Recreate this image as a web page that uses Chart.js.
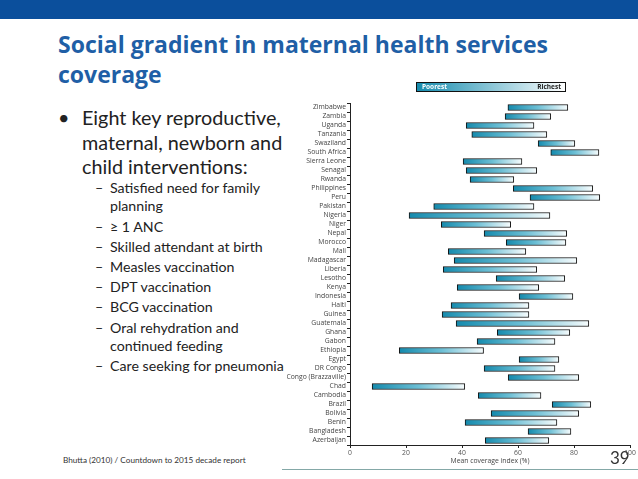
<!DOCTYPE html>
<html>
<head>
<meta charset="utf-8">
<script src="https://cdn.jsdelivr.net/npm/chart.js@4"></script>
<style>
  html, body { margin: 0; padding: 0; background: #fff; }
  #slide { position: relative; width: 638px; height: 479px; overflow: hidden; font-family: Lato, "Open Sans", sans-serif; color: #222; }
  #topbar { position: absolute; left: 0; top: 0; width: 638px; height: 19px; background: #0b4f9c; }
  .title { position: absolute; left: 58px; font-family: "Open Sans", sans-serif; font-weight: 700; font-size: 23px; color: #1f5fa6; line-height: 30px; white-space: nowrap; }
  .ln { position: absolute; white-space: nowrap; }
  .main { font-size: 19.8px; line-height: 24px; left: 82px; }
  .sub { font-size: 14.2px; line-height: 18px; left: 110px; }
  .mark { position: absolute; }
  #chartbox { position: absolute; left: 287px; top: 78px; width: 351px; height: 390px; background: #fff; }
  #key { position: absolute; left: 416px; top: 82px; width: 148px; height: 8px; border: 1px solid #111; background: linear-gradient(to right, #168cae, #ffffff); font-family: "Open Sans", sans-serif; font-size: 6.5px; font-weight: 700; line-height: 8px; }
  #key .p { position: absolute; left: 5px; top: 0; color: #fff; }
  #key .r { position: absolute; right: 4px; top: 0; color: #222; }
  #footer { position: absolute; left: 63px; top: 455px; font-size: 8.2px; color: #333; white-space: nowrap; }
  #pageno { position: absolute; left: 610px; top: 447px; font-size: 17px; color: #333; }
  #rule { position: absolute; left: 282px; top: 469px; width: 356px; height: 1px; background: #84a8a7; }
</style>
</head>
<body>
<div id="slide">
  <div id="topbar"></div>
  <div class="title" style="top:29px">Social gradient in maternal health services</div>
  <div class="title" style="top:59px">coverage</div>

  <div class="mark main" style="left:58px; top:105px">•</div>
  <div class="ln main" style="top:105px">Eight key reproductive,</div>
  <div class="ln main" style="top:130px">maternal, newborn and</div>
  <div class="ln main" style="top:154px">child interventions:</div>

  <div class="mark sub" style="left:95px; top:179px">–</div>
  <div class="ln sub" style="top:179px">Satisfied need for family</div>
  <div class="ln sub" style="top:197px">planning</div>
  <div class="mark sub" style="left:95px; top:218px">–</div>
  <div class="ln sub" style="top:218px">≥ 1 ANC</div>
  <div class="mark sub" style="left:95px; top:238px">–</div>
  <div class="ln sub" style="top:238px">Skilled attendant at birth</div>
  <div class="mark sub" style="left:95px; top:258px">–</div>
  <div class="ln sub" style="top:258px">Measles vaccination</div>
  <div class="mark sub" style="left:95px; top:278px">–</div>
  <div class="ln sub" style="top:278px">DPT vaccination</div>
  <div class="mark sub" style="left:95px; top:298px">–</div>
  <div class="ln sub" style="top:298px">BCG vaccination</div>
  <div class="mark sub" style="left:95px; top:319px">–</div>
  <div class="ln sub" style="top:319px">Oral rehydration and</div>
  <div class="ln sub" style="top:337px">continued feeding</div>
  <div class="mark sub" style="left:95px; top:357px">–</div>
  <div class="ln sub" style="top:357px">Care seeking for pneumonia</div>

  <div id="chartbox"><canvas id="chart"></canvas></div>
  <div id="key"><span class="p">Poorest</span><span class="r">Richest</span></div>

  <div id="footer">Bhutta (2010) / Countdown to 2015 decade report</div>
  <div id="rule"></div>
  <div id="pageno">39</div>
</div>

<script>
// countries, top to bottom as in the figure
const countries = [
  'Zimbabwe', 'Zambia', 'Uganda', 'Tanzania', 'Swaziland', 'South Africa',
  'Sierra Leone', 'Senagal', 'Rwanda', 'Philippines', 'Peru', 'Pakistan',
  'Nigeria', 'Niger', 'Nepal', 'Morocco', 'Mali', 'Madagascar', 'Liberia',
  'Lesotho', 'Kenya', 'Indonesia', 'Haiti', 'Guinea', 'Guatemala', 'Ghana',
  'Gabon', 'Ethiopia', 'Egypt', 'DR Congo', 'Congo (Brazzaville)', 'Chad',
  'Cambodia', 'Brazil', 'Bolivia', 'Benin', 'Bangladesh', 'Azerbaijan',
];

// mean coverage index (%) of the poorest quintile
const poorest = [
  56.4, 55.4, 41.5, 43.5, 67.2, 71.7, 40.4, 41.5, 42.9, 58.3, 64.3, 29.9,
  21.1, 32.6, 47.9, 55.8, 35.1, 37.2, 33.3, 52.2, 38.3, 60.4, 36.1, 32.9,
  37.9, 52.6, 45.4, 17.6, 60.4, 47.9, 56.5, 7.9, 45.8, 72.2, 50.4, 41.1,
  63.6, 48.3,
];

// mean coverage index (%) of the richest quintile
const richest = [
  77.8, 71.7, 65.7, 70.3, 80.3, 88.9, 61.4, 66.7, 58.5, 86.7, 89.2, 65.7,
  71.4, 57.4, 77.4, 77.1, 62.8, 81.0, 66.7, 76.7, 67.4, 79.6, 63.9, 63.9,
  85.3, 78.5, 73.2, 47.7, 74.6, 73.2, 81.7, 41.0, 68.2, 86.0, 81.7, 73.9,
  78.9, 71.0,
];

const xTicks = [0, 20, 40, 60, 80, 100];

const LABEL_FONT = { family: '"Open Sans", sans-serif', size: 6.8 };

// dark teal at the poorest end fading to white at the richest end
function barGradient(ctx) {
  const chart = ctx.chart;
  if (!chart.chartArea || ctx.type !== 'data') return '#168cae';
  const x = chart.scales.x;
  const [lo, hi] = ctx.raw;
  const g = chart.ctx.createLinearGradient(x.getPixelForValue(lo), 0, x.getPixelForValue(hi), 0);
  g.addColorStop(0, '#148aad');
  g.addColorStop(0.5, '#6cbfd5');
  g.addColorStop(1, '#f7fcfd');
  return g;
}

new Chart(document.getElementById('chart'), {
  type: 'bar',
  data: {
    labels: countries,
    datasets: [{
      data: countries.map((_, i) => [poorest[i], richest[i]]),
      backgroundColor: barGradient,
      borderColor: '#111',
      borderWidth: 1,
      borderSkipped: false,
      barThickness: 6,
    }],
  },
  options: {
    indexAxis: 'y',
    responsive: true,
    maintainAspectRatio: false,
    animation: false,
    layout: { padding: { top: 25, right: 8, left: 0, bottom: 0 } },
    scales: {
      x: {
        min: 0,
        max: 100,
        afterBuildTicks: s => { s.ticks = xTicks.map(v => ({ value: v })); },
        afterFit: s => { s.height = 23; },
        grid: { drawOnChartArea: false, drawTicks: true, tickLength: 3, color: '#222' },
        border: { color: '#222', width: 1 },
        ticks: { color: '#555', font: LABEL_FONT, padding: 1, maxRotation: 0 },
        title: { display: true, text: 'Mean coverage index (%)', color: '#444', font: LABEL_FONT, padding: { top: 0, bottom: 3 } },
      },
      y: {
        afterFit: s => { s.width = 63; },
        grid: { drawOnChartArea: false, drawTicks: true, tickLength: 3, color: '#222', offset: true },
        border: { color: '#222', width: 1 },
        ticks: { color: '#444', font: LABEL_FONT, padding: 1, autoSkip: false },
      },
    },
    plugins: {
      legend: { display: false },
      tooltip: { enabled: false },
    },
  },
});
</script>
</body>
</html>
